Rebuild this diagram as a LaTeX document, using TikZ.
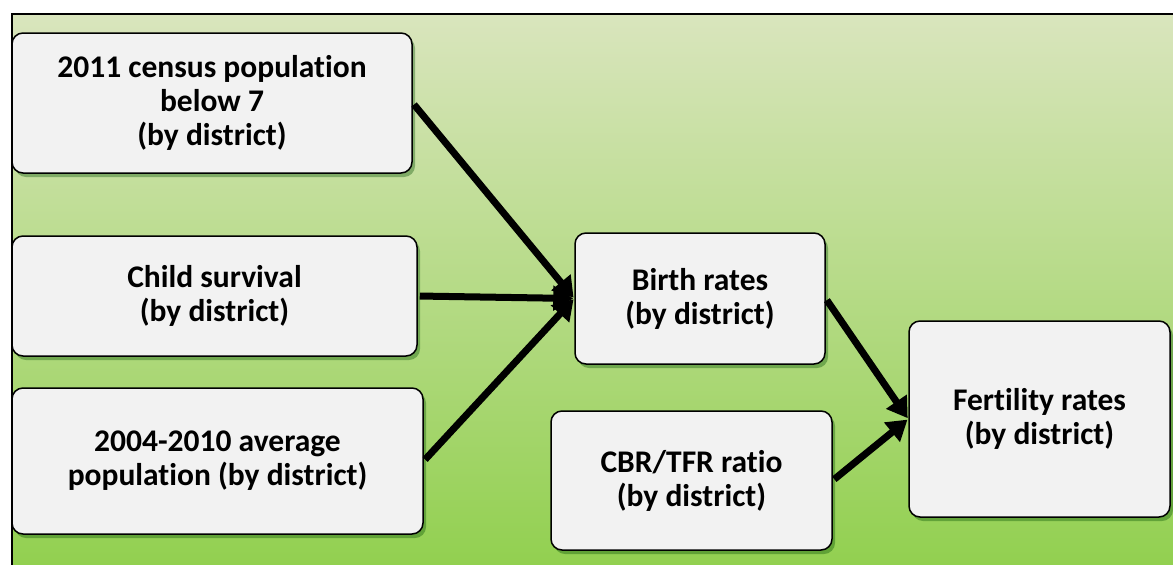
\documentclass[tikz,border=0pt]{standalone}
\usepackage{fontspec}
\setmainfont[Ligatures=NoCommon]{Carlito}
\usetikzlibrary{arrows.meta,shadows}
\definecolor{bgtop}{HTML}{D9E5BD}
\definecolor{bgbot}{HTML}{92D050}
\definecolor{boxfill}{HTML}{F2F2F2}
\tikzset{
  box/.style={draw=black, line width=1.5pt, fill=boxfill, rounded corners=11pt,
    align=center, inner sep=0pt,
    font=\fontsize{31.5}{34}\selectfont\bfseries,
    drop shadow={shadow xshift=3pt, shadow yshift=-4pt, opacity=0.35, fill=black!70!green}},
  arr/.style={line width=7pt, -{Triangle[length=20pt,width=24pt]}, shorten <=2pt, shorten >=1pt}
}
\begin{document}
\begin{tikzpicture}[x=1pt,y=-1pt]
\useasboundingbox (0,0) rectangle (1173,565);
\shade[top color=bgtop, bottom color=bgbot] (12,14) rectangle (1173,565);
\draw[line width=2pt] (12,565) -- (12,14) -- (1173,14);
\node[box, minimum width=400pt, minimum height=140pt] (b1) at (212,103) {2011 census population\\below 7\\(by district)};
\node[box, minimum width=405pt, minimum height=120pt] (b2) at (214.5,296) {Child survival\\(by district)};
\node[box, minimum width=411pt, minimum height=146pt] (b3) at (217.5,461) {2004-2010 average\\population (by district)};
\node[box, minimum width=250pt, minimum height=131pt] (br) at (700,298.5) {Birth rates\\(by district)};
\node[box, minimum width=281pt, minimum height=139pt] (cb) at (691.5,480.5) {CBR/TFR ratio\\(by district)};
\node[box, minimum width=261pt, minimum height=196pt] (fr) at (1039.5,419) {Fertility rates\\(by district)};
\draw[arr] (b1.east) -- (br.west);
\draw[arr] (b2.east) -- (br.west);
\draw[arr] (b3.east) -- (br.west);
\draw[arr] (br.east) -- (fr.west);
\draw[arr] (cb.east) -- (fr.west);
\end{tikzpicture}
\end{document}
